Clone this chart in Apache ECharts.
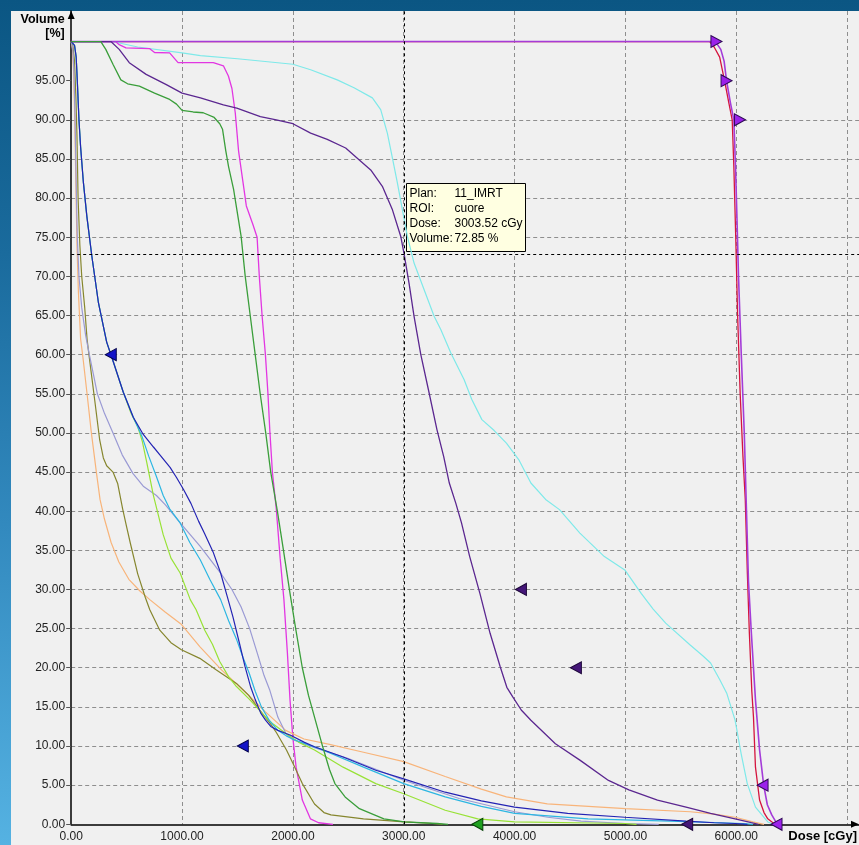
<!DOCTYPE html>
<html>
<head>
<meta charset="utf-8">
<title>DVH</title>
<script src="https://cdn.jsdelivr.net/npm/echarts@6/dist/echarts.min.js"></script>
<style>
  html, body { margin: 0; padding: 0; width: 859px; height: 845px; overflow: hidden; }
  body { background: linear-gradient(to bottom, #0b5683 0%, #1a6b9d 30%, #3289be 62%, #55b2e2 100%); }
  #panel { position: absolute; left: 11px; top: 11px; width: 848px; height: 834px; background: #f0f0f0; }
  #chart { position: absolute; left: 0; top: 0; width: 859px; height: 845px; }
</style>
</head>
<body>
<div id="panel"></div>
<div id="chart"></div>
<script>
// ---- Axis ticks ----
const doseTicks = [0, 1000, 2000, 3000, 4000, 5000, 6000];
const volumeTicks = [0, 5, 10, 15, 20, 25, 30, 35, 40, 45, 50, 55, 60, 65, 70, 75, 80, 85, 90, 95];

// ---- Cumulative DVH curves: [dose cGy, volume %] ----
const ptv = [[0,100],[5780,100],[5821,99.8],[5860,99],[5890,97.5],[5912,95],[5948,92.1],[5978,90],[5993,84],[6005,78],[6020,70],[6045,60],[6072,50],[6092,40],[6110,31],[6136,24.4],[6173,15.9],[6210,9.5],[6247,5],[6280,2.5],[6320,1.2],[6357,0.3],[6380,0]];
const ptv2 = [[0,100],[5760,100],[5800,99.3],[5850,98],[5894,95],[5935,92],[5963,90],[5978,84],[5995,75],[6012,65],[6035,55],[6060,47],[6081,41.5],[6100,32],[6118,24.4],[6140,17],[6155,13.7],[6173,7.3],[6210,3.1],[6250,1.5],[6284,0.7],[6339,0.1],[6360,0]];
const cuore = [[0,100],[358,100],[433,99],[524,97.3],[676,95.8],[858,94.5],[1000,93.4],[1166,92.8],[1373,91.9],[1494,91.5],[1706,90.4],[1850,90],[2000,89.5],[2160,88.3],[2310,87.5],[2476,86.4],[2581,85.1],[2702,83.6],[2807,81.5],[2898,78.5],[2973,75.1],[3003.52,72.85],[3048,69.1],[3093,64.9],[3154,60],[3229,55.1],[3300,50.4],[3360,47],[3411,43.6],[3470,41],[3521,38.5],[3595,34.2],[3687,29.5],[3779,24.4],[3871,20.1],[3930,17.5],[3982,16.3],[4060,14.6],[4147,13.3],[4368,10.3],[4589,8.2],[4847,5.6],[5031,4.4],[5289,3.1],[5547,2.2],[5768,1.4],[5989,0.7],[6136,0.2],[6200,0]];
const roiAqua = [[0,100],[373,100],[600,99.3],[1000,98.55],[1166,98.2],[1500,97.8],[2000,97.1],[2160,96.4],[2400,95.1],[2551,94.1],[2717,92.8],[2792,91.3],[2852,88.3],[2898,85.1],[2943,81.9],[2988,78.5],[3033,75.1],[3093,71.7],[3184,68.3],[3274,64.9],[3334,63.2],[3425,60.2],[3545,56.8],[3613,54.3],[3705,51.7],[3816,50.3],[3926,48.7],[4037,46.6],[4147,43.6],[4280,41.5],[4405,40.2],[4589,37.2],[4810,34.2],[4994,32.5],[5142,29.5],[5250,27.5],[5363,25.7],[5584,22.9],[5700,21.5],[5768,20.6],[5850,18.5],[5915,16.7],[5989,13.3],[6044,9.0],[6099,5.2],[6173,2.2],[6284,0.3],[6339,0]];
const roiMagenta = [[0,100],[400,100],[433,99.6],[494,99.2],[706,99.1],[752,98.6],[888,98.55],[964,97.3],[1282,97.3],[1373,96.9],[1418,95.6],[1450,94],[1480,90.9],[1510,86],[1550,82],[1580,79],[1640,76.6],[1677,75],[1697,70],[1722,65],[1752,60],[1775,55],[1793,50],[1815,45],[1850,40.3],[1885,34],[1919,28.7],[1950,22],[1974,15.9],[2000,11],[2029,7.3],[2085,3.1],[2158,0.7],[2232,0.2],[2361,0]];
const roiGreen = [[0,100],[267,100],[312,99],[380,97],[448,95.1],[509,94.6],[615,94.3],[752,93.4],[888,92.6],[950,92],[1000,91.2],[1100,91],[1191,90.9],[1290,90.3],[1340,89.5],[1365,88.8],[1395,86],[1420,84],[1465,81.1],[1533,75.1],[1570,70],[1615,65],[1660,60],[1705,55],[1755,50],[1800,45],[1860,40],[1915,35],[1974,29.5],[2025,25],[2085,20],[2140,16.5],[2195,13.7],[2269,9.9],[2330,7],[2379,5.2],[2471,3.5],[2600,2],[2821,0.7],[3005,0.3],[3300,0.1],[3400,0]];
const roiNavy = [[0,100],[30,99.5],[45,98],[55,95],[70,90],[85,86.5],[110,82],[141,77.7],[186,72.6],[246,66.6],[320,61.6],[370,59.5],[470,55.2],[560,52],[650,49.8],[742,48.2],[800,47.2],[892,45.6],[950,44.3],[1012,42.8],[1080,41],[1150,38.7],[1201,37.2],[1280,34.8],[1348,32.1],[1410,29],[1459,26.5],[1520,23],[1569,20.1],[1620,17.5],[1661,15.9],[1710,14.2],[1753,13.3],[1800,12.5],[1864,12.0],[1974,11.4],[2100,10.5],[2195,9.9],[2453,8.6],[2748,6.9],[3000,5.8],[3374,4.1],[3700,3.0],[4000,2.2],[4479,1.4],[4994,0.9],[5547,0.4],[5800,0.2],[5989,0.1],[6100,0]];
const roiSky = [[0,100],[30,99.5],[45,98],[55,95],[70,90],[85,86.5],[110,82],[141,77.7],[186,72.6],[246,66.6],[320,61.6],[370,59.5],[470,55.2],[560,52],[640,49.5],[700,47],[767,44.5],[830,42],[888,40.3],[983,38.5],[1070,36],[1164,33.8],[1250,31.3],[1348,28.7],[1420,26],[1495,23.5],[1550,21.3],[1606,19.3],[1660,17],[1716,15.0],[1790,13.2],[1864,12],[1940,11.3],[2011,10.8],[2269,9.5],[2637,7.3],[3000,5.2],[3374,3.5],[3700,2.3],[4000,1.4],[4663,0.7],[5400,0.4],[6063,0.1],[6150,0]];
const roiLime = [[0,100],[30,99.5],[45,98],[55,95],[70,90],[85,86.5],[110,82],[141,77.7],[186,72.6],[246,66.6],[320,61.6],[370,59.5],[470,55.2],[540,52.5],[600,50.8],[640,49],[682,46.2],[742,42],[772,40.3],[830,37],[900,34],[983,32.1],[1074,28.7],[1127,27.4],[1205,24.8],[1274,23],[1340,20.8],[1422,18.8],[1491,17.6],[1606,16],[1671,15],[1753,13.7],[1822,12.8],[1937,11.6],[2050,10.5],[2195,9.5],[2453,7.3],[2748,5.2],[3000,3.9],[3374,1.8],[3668,0.7],[4000,0.3],[5000,0.1],[5100,0]];
const roiLavender = [[0,100],[15,99],[25,96],[35,90],[45,82],[55,75],[70,70],[95,66],[130,62.5],[161,60.2],[200,57.5],[236,55],[300,52.5],[377,50],[460,47.2],[558,44.8],[650,43.2],[769,42],[850,40.8],[983,38.5],[1164,35.5],[1348,32.1],[1450,30],[1532,27.8],[1610,25],[1680,21.8],[1740,19],[1790,17.2],[1864,13.7],[1937,11.6],[2000,10.8],[2195,9.8],[2500,8.4],[3005,5.6],[3500,3.3],[4000,1.6],[4300,0.9],[4600,0.4],[5000,0.1],[5300,0]];
const roiOlive = [[0,100],[15,99.5],[30,97.5],[42,93],[52,88],[62,80],[78,74],[95,70],[122,66],[143,62],[160,60],[212,54.2],[257,49.1],[290,46.8],[320,45.8],[377,45],[420,43.5],[464,40.3],[500,38],[532,36],[600,32],[668,29],[709,27.4],[799,24.8],[900,23.2],[994,22.3],[1160,21.2],[1310,19.7],[1491,18],[1600,16.5],[1701,14.6],[1800,12.8],[1852,11.7],[1942,9.5],[2000,7.8],[2085,5.2],[2195,2.6],[2280,1.5],[2343,1.2],[2637,0.7],[3005,0.3],[3263,0.1],[3350,0]];
const roiPeach = [[0,100],[12,99],[22,96],[32,90],[42,82],[52,74],[65,68],[85,62],[107,59.5],[143,55],[182,50],[227,45],[260,41.5],[300,39],[360,36],[430,33.5],[520,31.3],[620,29.8],[709,28.7],[850,27.1],[990,25.6],[1160,22.7],[1358,19.7],[1555,17.1],[1750,14.4],[1935,12.0],[2100,10.9],[2330,10.2],[2637,9.2],[3000,8.0],[3374,6.1],[3700,4.5],[3926,3.5],[4295,2.6],[5000,2.0],[5584,1.6],[5800,1.3],[5989,0.9],[6150,0.3],[6250,0]];

// ---- Dose objectives (triangle markers) ----
const ptvMinObjectives = [[5821,100],[5912,95],[6033,90]];
const ptvMaxObjectives = [[6237,5],[6363,0]];
const cuoreObjectives = [[4057,30],[4553,20],[5557,0]];
const navyObjectives = [[357,60],[1548,10]];
const greenObjectives = [[3664,0]];

// ---- Cursor read-out ----
const cursorPlan = '11_IMRT';
const cursorRoi = 'cuore';
const cursorDose = 3003.52;
const cursorVolume = 72.85;

// drawing order: first listed is drawn underneath
const curves = [
  { name: 'PTV 2',    data: ptv2,        color: '#d4143e', width: 1.3 },
  { name: 'ROI 3',    data: roiAqua,     color: '#7ee9e9', width: 1.2 },
  { name: 'ROI 4',    data: roiMagenta,  color: '#e236e2', width: 1.3 },
  { name: 'ROI 5',    data: roiPeach,    color: '#f8b47a', width: 1.2 },
  { name: 'ROI 6',    data: roiOlive,    color: '#86862e', width: 1.2 },
  { name: 'ROI 7',    data: roiLavender, color: '#9a9ad4', width: 1.2 },
  { name: 'ROI 8',    data: roiLime,     color: '#98e236', width: 1.2 },
  { name: 'ROI 9',    data: roiSky,      color: '#2cb6e2', width: 1.2 },
  { name: 'ROI 10',   data: roiNavy,     color: '#2424b4', width: 1.2 },
  { name: 'PTV',      data: ptv,         color: '#a43cd8', width: 1.6 },
  { name: 'cuore',    data: cuore,       color: '#5b2790', width: 1.3 },
  { name: 'ROI 12',   data: roiGreen,    color: '#3a9e3a', width: 1.3 }
];

const FONT = '"Liberation Sans", Arial, sans-serif';
const LEFT_TRI = 'path://M0,6L11,0L11,12Z';
const RIGHT_TRI = 'path://M11,6L0,0L0,12Z';

function objectiveSeries(data, shape, fill, stroke) {
  return {
    type: 'scatter', data: data, symbol: shape, symbolSize: [11, 12],
    itemStyle: { color: fill, borderColor: stroke, borderWidth: 1, opacity: 1 },
    clip: false, z: 6, silent: true, animation: false
  };
}

const lineSeries = curves.map(c => {
  const s = {
    name: c.name, type: 'line', data: c.data, showSymbol: false, symbol: 'none',
    lineStyle: { color: c.color, width: c.width }, itemStyle: { color: c.color },
    z: 3, silent: true, animation: false
  };
  if (c.name === cursorRoi) {
    s.markLine = {
      silent: true, symbol: 'none', animation: false,
      label: { show: false },
      lineStyle: { color: '#000', type: [3, 3], width: 1 },
      data: [{ xAxis: cursorDose }, { yAxis: cursorVolume }]
    };
  }
  return s;
});

const chart = echarts.init(document.getElementById('chart'), null, { renderer: 'canvas' });

chart.setOption({
  backgroundColor: 'transparent',
  animation: false,
  grid: { left: 71.2, right: 0, top: 11, bottom: 20.7, containLabel: false, outerBoundsMode: 'none' },
  xAxis: {
    type: 'value', min: 0, max: 7107, interval: 1000,
    axisLine: { show: true, onZero: false, lineStyle: { color: '#000', width: 1.5 },
      symbol: ['none', 'triangle'], symbolSize: [7, 8], symbolOffset: [0, -4] },
    axisTick: { show: false },
    axisLabel: {
      show: true, customValues: doseTicks, margin: 6, color: '#222',
      fontFamily: FONT, fontSize: 12,
      formatter: v => (doseTicks.indexOf(v) >= 0 ? v.toFixed(2) : '')
    },
    splitLine: { show: true, showMinLine: false, showMaxLine: false,
      lineStyle: { color: '#8e8e8e', type: [4, 3], width: 1 } }
  },
  yAxis: {
    type: 'value', min: 0, max: 103.9, interval: 5,
    axisLine: { show: true, onZero: false, lineStyle: { color: '#000', width: 1.5 },
      symbol: ['none', 'triangle'], symbolSize: [7, 8], symbolOffset: [0, -4] },
    axisTick: { show: true, length: 5, customValues: volumeTicks, lineStyle: { color: '#555' } },
    axisLabel: {
      show: true, customValues: volumeTicks, margin: 6, color: '#222',
      fontFamily: FONT, fontSize: 12,
      formatter: v => (volumeTicks.indexOf(v) >= 0 ? v.toFixed(2) : '')
    },
    splitLine: { show: true, showMinLine: false, showMaxLine: false,
      lineStyle: { color: '#8e8e8e', type: [4, 3], width: 1 } }
  },
  series: lineSeries.concat([
    objectiveSeries(ptvMinObjectives, RIGHT_TRI, '#9b22ea', '#2e0a55'),
    objectiveSeries(ptvMaxObjectives, LEFT_TRI, '#9b22ea', '#2e0a55'),
    objectiveSeries(cuoreObjectives, LEFT_TRI, '#441678', '#1c0638'),
    objectiveSeries(navyObjectives, LEFT_TRI, '#1414c8', '#00004a'),
    objectiveSeries(greenObjectives, LEFT_TRI, '#1fa01f', '#064006')
  ])
});

// Axis titles and the cursor read-out box
const pt = chart.convertToPixel({ xAxisIndex: 0, yAxisIndex: 0 }, [cursorDose, cursorVolume]);
const origin = chart.convertToPixel({ xAxisIndex: 0, yAxisIndex: 0 }, [0, 0]);
const bx = Math.round(pt[0] + 2) + 0.5;
const by = Math.round(pt[1] - 71) + 0.5;
const rows = [
  ['Plan:', cursorPlan],
  ['ROI:', cursorRoi],
  ['Dose:', cursorDose.toFixed(2) + ' cGy'],
  ['Volume:', cursorVolume.toFixed(2) + ' %']
];
const boxChildren = [{
  type: 'rect', shape: { x: 0, y: 0, width: 119, height: 68 },
  style: { fill: '#ffffe1', stroke: '#000', lineWidth: 1 }
}];
rows.forEach((r, i) => {
  boxChildren.push({ type: 'text', x: 3, y: 9.7 + 15 * i,
    style: { text: r[0], font: '12px ' + FONT, fill: '#000', align: 'left', verticalAlign: 'middle' } });
  boxChildren.push({ type: 'text', x: 48, y: 9.7 + 15 * i,
    style: { text: r[1], font: '12px ' + FONT, fill: '#000', align: 'left', verticalAlign: 'middle' } });
});

chart.setOption({
  graphic: [
    { type: 'text', x: origin[0] - 6.5, y: 20,
      style: { text: 'Volume', font: 'bold 12.5px ' + FONT, fill: '#000', align: 'right', verticalAlign: 'middle' } },
    { type: 'text', x: origin[0] - 6.5, y: 33.5,
      style: { text: '[%]', font: 'bold 12.5px ' + FONT, fill: '#000', align: 'right', verticalAlign: 'middle' } },
    { type: 'text', x: 857, y: origin[1] + 12.5,
      style: { text: 'Dose [cGy]', font: 'bold 13px ' + FONT, fill: '#000', align: 'right', verticalAlign: 'middle' } },
    { type: 'group', x: bx, y: by, z: 20, children: boxChildren }
  ]
});
</script>
</body>
</html>
